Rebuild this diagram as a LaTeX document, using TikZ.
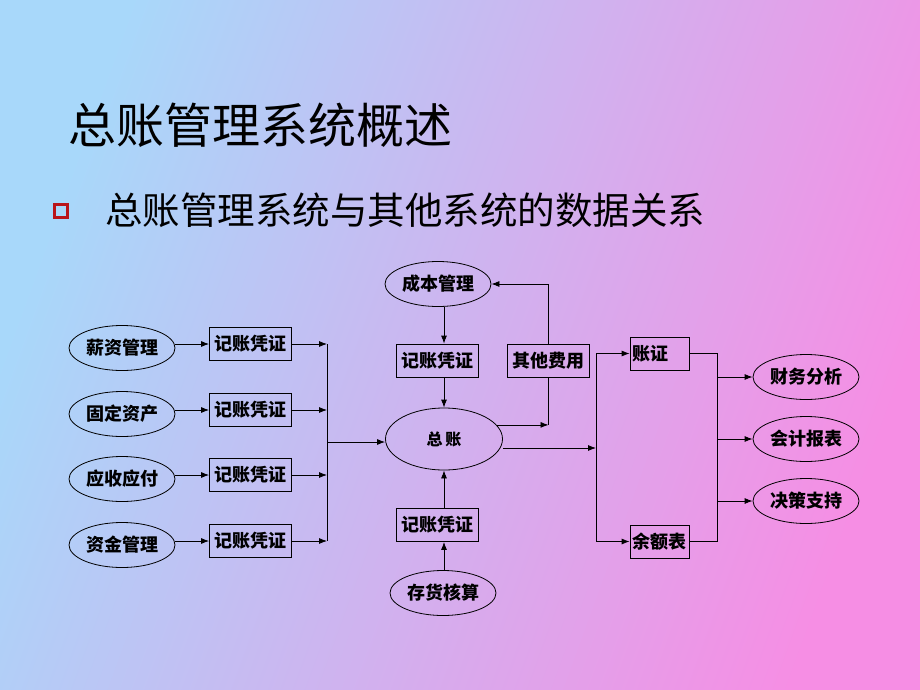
\documentclass[tikz,border=0pt]{standalone}
\usepackage{fontspec}
\setmainfont{Noto Sans CJK SC}
\usetikzlibrary{shapes.geometric,arrows.meta}
\definecolor{bgleft}{RGB}{168,216,250}
\definecolor{bgright}{RGB}{246,142,228}
\definecolor{bulletred}{RGB}{185,20,25}
\tikzset{
  sysell/.style={draw,ellipse,line width=0.8pt,minimum width=106pt,minimum height=45pt,inner sep=0pt,font=\fontsize{18}{18}\selectfont\bfseries},
  voucher/.style={draw,rectangle,line width=0.8pt,minimum width=82pt,minimum height=33pt,inner sep=0pt,font=\fontsize{18}{18}\selectfont\bfseries},
  tablebox/.style={draw,rectangle,line width=0.8pt,minimum height=33pt,text width=55pt,inner xsep=2pt,inner ysep=0pt,align=left,font=\fontsize{18}{18}\selectfont\bfseries},
  link/.style={line width=0.8pt},
  flow/.style={link,-{Latex[length=8pt,width=6pt]}}
}
\begin{document}
\begin{tikzpicture}[x=1pt,y=-1pt]
\shade[left color=bgleft,right color=bgright,shading angle=70] (0,0) rectangle (920,690);
\useasboundingbox (0,0) rectangle (920,690);
% heading
\node[anchor=west,inner sep=0pt,font=\fontsize{48}{48}\selectfont] (title) at (68,125) {总账管理系统概述};
\node[draw=bulletred,line width=2.5pt,minimum size=13pt,inner sep=0pt] (bullet) at (61,211) {};
\node[anchor=west,inner sep=0pt,font=\fontsize{37.5}{37.5}\selectfont] (subtitle) at (105,210) {总账管理系统与其他系统的数据关系};
% feeding systems
\foreach \name/\y [count=\i] in {薪资管理/344,固定资产/410,应收应付/475,资金管理/541} {
  \node[sysell] (src\i) at (122,\y+4) {\name};
  \node[voucher] (box\i) at (250.5,\y) {记账凭证};
  \coordinate (in\i) at (327,\y);
  \draw[flow] (src\i.east |- box\i.west) -- (box\i.west);
  \draw[flow] (box\i.east) -- (in\i);
}
\draw[link] (in1) -- (in4);
% general ledger
\node[sysell,minimum width=117pt,minimum height=62pt,font=\fontsize{16}{16}\selectfont\bfseries] (ledger) at (444,439) {总\,账};
\coordinate (join) at (327,442);
\draw[flow] (join) -- (ledger.west |- join);
\node[sysell] (cost) at (438,284) {成本管理};
\node[voucher] (vtop) at (437.5,360.5) {记账凭证};
\node[voucher] (other) at (548.5,360.5) {其他费用};
\node[voucher] (vbot) at (437.5,525) {记账凭证};
\node[sysell] (stock) at (443,593) {存货核算};
\draw[flow] (cost.south -| ledger) -- (vtop.north -| ledger);
\draw[flow] (vtop.south -| ledger) -- (ledger.north);
\draw[flow] (stock.north -| ledger) -- (vbot.south -| ledger);
\draw[flow] (vbot.north -| ledger) -- (ledger.south);
\draw[flow] (ledger.15) -- (ledger.15 -| other.south);
\draw[link] (other.south) -- (ledger.15 -| other.south);
\draw[flow] (other.north) |- (cost.east);
% outputs
\node[tablebox] (acct) at (659.5,353.5) {账证};
\node[tablebox] (bal) at (659.5,541.5) {余额表};
\coordinate (split) at (596,448);
\draw[flow] (ledger.east |- split) -- (split);
\draw[link] (split |- acct.west) -- (split |- bal.west);
\draw[flow] (split |- acct.west) -- (acct.west);
\draw[flow] (split |- bal.west) -- (bal.west);
\node[sysell] (fin) at (806,377) {财务分析};
\node[sysell] (report) at (806,439) {会计报表};
\node[sysell] (plan) at (806,501) {决策支持};
\coordinate (merge) at (717,448);
\draw[link] (acct.east) -| (merge) |- (bal.east);
\foreach \out in {fin,report,plan}
  \draw[flow] (merge |- \out.west) -- (\out.west);
\end{tikzpicture}
\end{document}
